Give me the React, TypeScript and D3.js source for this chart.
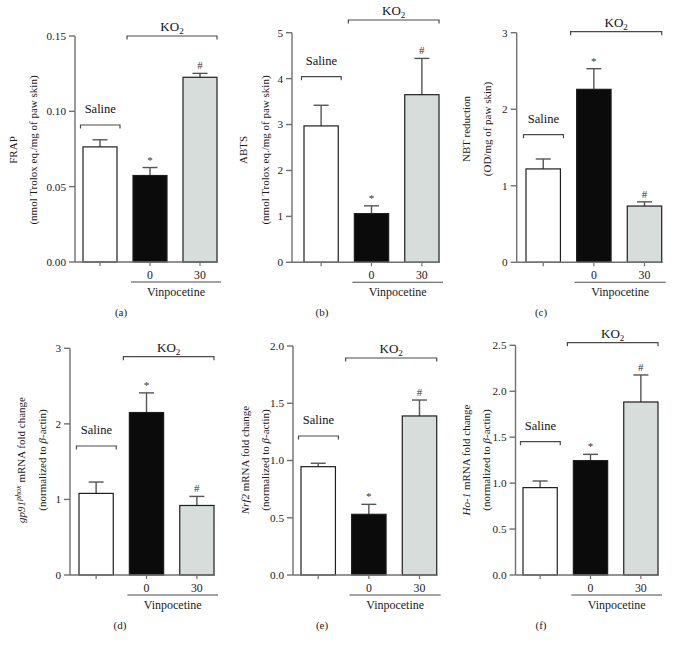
import React from "react";
import * as d3 from "d3";

const groups = ["Saline", "KO2 + Vinpocetine 0", "KO2 + Vinpocetine 30"];
const xLabels = ["", "0", "30"];
const markers = ["", "*", "#"];

const frapMeans = [0.0764, 0.0574, 0.1226];
const frapErrors = [0.0047, 0.0053, 0.0026];
const frapTicks = [0, 0.05, 0.1, 0.15];

const abtsMeans = [2.97, 1.06, 3.65];
const abtsErrors = [0.45, 0.17, 0.79];
const abtsTicks = [0, 1, 2, 3, 4, 5];

const nbtMeans = [1.22, 2.26, 0.735];
const nbtErrors = [0.13, 0.27, 0.055];
const nbtTicks = [0, 1, 2, 3];

const gp91Means = [1.08, 2.15, 0.92];
const gp91Errors = [0.15, 0.26, 0.12];
const gp91Ticks = [0, 1, 2, 3];

const nrf2Means = [0.946, 0.53, 1.389];
const nrf2Errors = [0.03, 0.087, 0.139];
const nrf2Ticks = [0, 0.5, 1.0, 1.5, 2.0];

const ho1Means = [0.951, 1.245, 1.883];
const ho1Errors = [0.072, 0.068, 0.294];
const ho1Ticks = [0, 0.5, 1.0, 1.5, 2.0, 2.5];

const fills = ["#ffffff", "#0b0b0b", "#d6dddb"];
const FONT = "'Liberation Serif', 'Times New Roman', serif";
const AXIS = "#707070";
const BRACKET = "#4a4a4a";

type Cfg = {
  means: number[];
  errors: number[];
  ticks: number[];
  fmt: string;
  axisX: number;
  top: number;
  bottom: number;
  barStart: number;
  barEnd: number;
  salineY: number;
  koY: number;
  label1: React.ReactNode;
  label2: React.ReactNode;
  labelX1: number;
  labelX2: number;
  labelY: number;
  caption: string;
  captionX: number;
};

const beta = <tspan fontStyle="italic">β</tspan>;

const panels: Cfg[] = [
  {
    means: frapMeans, errors: frapErrors, ticks: frapTicks, fmt: ".2f",
    axisX: 75, top: 36, bottom: 262, barStart: 83, barEnd: 217,
    salineY: 125, koY: 36,
    label1: "FRAP", label2: "(nmol Trolox eq./mg of paw skin)",
    labelX1: 13, labelX2: 33, labelY: 150, caption: "(a)", captionX: 121,
  },
  {
    means: abtsMeans, errors: abtsErrors, ticks: abtsTicks, fmt: "d",
    axisX: 292, top: 32.7, bottom: 262.3, barStart: 304, barEnd: 439,
    salineY: 76.7, koY: 20,
    label1: "ABTS", label2: "(nmol Trolox eq./mg of paw skin)",
    labelX1: 243, labelX2: 265, labelY: 150, caption: "(b)", captionX: 322,
  },
  {
    means: nbtMeans, errors: nbtErrors, ticks: nbtTicks, fmt: "d",
    axisX: 516.7, top: 32.7, bottom: 262.3, barStart: 526, barEnd: 661.7,
    salineY: 134.7, koY: 31.7,
    label1: "NBT reduction", label2: "(OD/mg of paw skin)",
    labelX1: 466, labelX2: 487, labelY: 129, caption: "(c)", captionX: 541,
  },
  {
    means: gp91Means, errors: gp91Errors, ticks: gp91Ticks, fmt: "d",
    axisX: 70, top: 348.3, bottom: 575, barStart: 79, barEnd: 214,
    salineY: 446, koY: 356.7,
    label1: (
      <>
        <tspan fontStyle="italic">gp91</tspan>
        <tspan fontStyle="italic" fontSize="8" dy="-4">phox</tspan>
        <tspan dy="4"> mRNA fold change</tspan>
      </>
    ),
    label2: <>(normalized to {beta}-actin)</>,
    labelX1: 21, labelX2: 42, labelY: 460, caption: "(d)", captionX: 120,
  },
  {
    means: nrf2Means, errors: nrf2Errors, ticks: nrf2Ticks, fmt: ".1f",
    axisX: 293, top: 346, bottom: 575, barStart: 301, barEnd: 436.7,
    salineY: 436, koY: 358,
    label1: (
      <>
        <tspan fontStyle="italic">Nrf2</tspan> mRNA fold change
      </>
    ),
    label2: <>(normalized to {beta}-actin)</>,
    labelX1: 245, labelX2: 265, labelY: 460, caption: "(e)", captionX: 322,
  },
  {
    means: ho1Means, errors: ho1Errors, ticks: ho1Ticks, fmt: ".1f",
    axisX: 515.5, top: 345.3, bottom: 575, barStart: 523, barEnd: 658,
    salineY: 441.7, koY: 342.7,
    label1: (
      <>
        <tspan fontStyle="italic">Ho-1</tspan> mRNA fold change
      </>
    ),
    label2: <>(normalized to {beta}-actin)</>,
    labelX1: 466, labelX2: 486, labelY: 460, caption: "(f)", captionX: 541,
  },
];

function Panel({ cfg }: { cfg: Cfg }) {
  const yMax = cfg.ticks[cfg.ticks.length - 1];
  const y = d3.scaleLinear().domain([0, yMax]).range([cfg.bottom, cfg.top]);
  const x = d3
    .scaleBand<string>()
    .domain(groups)
    .range([cfg.barStart, cfg.barEnd])
    .paddingInner(0.32)
    .paddingOuter(0);
  const bw = x.bandwidth();
  const fmt = d3.format(cfg.fmt);
  const capHalf = 7.5;

  const sx0 = (x(groups[0]) as number) - 2.5;
  const sx1 = (x(groups[0]) as number) + bw + 3;
  const kx0 = (x(groups[1]) as number) - 6;
  const kx1 = cfg.barEnd;
  const ux0 = (x(groups[1]) as number) - 2;
  const ux1 = cfg.barEnd + 4;

  return (
    <g fontFamily={FONT}>
      {/* y axis */}
      <line x1={cfg.axisX} x2={cfg.axisX} y1={cfg.bottom} y2={cfg.top} stroke={AXIS} strokeWidth={1.4} />
      {cfg.ticks.map((t) => (
        <g key={t}>
          <line x1={cfg.axisX - 6} x2={cfg.axisX} y1={y(t)} y2={y(t)} stroke={AXIS} strokeWidth={1.4} />
          <text x={cfg.axisX - 9} y={y(t)} dy="0.35em" textAnchor="end" fontSize={11.2} fill="#1a1a1a">
            {fmt(t)}
          </text>
        </g>
      ))}
      {/* bars */}
      {groups.map((g, i) => {
        const bx = x(g) as number;
        const top = y(cfg.means[i]);
        const et = y(cfg.means[i] + cfg.errors[i]);
        const cx = bx + bw / 2;
        return (
          <g key={g}>
            <line x1={cx} x2={cx} y1={top} y2={et} stroke="#555" strokeWidth={1.4} />
            <line x1={cx - capHalf} x2={cx + capHalf} y1={et} y2={et} stroke="#555" strokeWidth={1.4} />
            <rect x={bx} y={top} width={bw} height={cfg.bottom - top} fill={fills[i]} stroke="#1e1e1e" strokeWidth={1.2} />
            {markers[i] && (
              <text x={cx} y={et - 4} textAnchor="middle" fontSize={11} fill="#333">
                {markers[i]}
              </text>
            )}
          </g>
        );
      })}
      {/* x axis */}
      <line x1={cfg.axisX} x2={cfg.barEnd + 1} y1={cfg.bottom} y2={cfg.bottom} stroke={AXIS} strokeWidth={1.4} />
      {groups.map((g, i) => {
        const cx = (x(g) as number) + bw / 2;
        return (
          <g key={"t" + g}>
            <line x1={cx} x2={cx} y1={cfg.bottom} y2={cfg.bottom + 4} stroke={AXIS} strokeWidth={1.2} />
            <text x={cx} y={cfg.bottom + 17} textAnchor="middle" fontSize={11.8} fill="#1a1a1a">
              {xLabels[i]}
            </text>
          </g>
        );
      })}
      <line x1={ux0} x2={ux1} y1={cfg.bottom + 20} y2={cfg.bottom + 20} stroke={BRACKET} strokeWidth={1.1} />
      <text x={(ux0 + ux1) / 2} y={cfg.bottom + 34} textAnchor="middle" fontSize={12} fill="#1a1a1a">
        Vinpocetine
      </text>
      <text x={cfg.captionX} y={cfg.bottom + 54} textAnchor="middle" fontSize={11} fill="#1a1a1a">
        {cfg.caption}
      </text>
      {/* Saline bracket */}
      <path
        d={`M${sx0},${cfg.salineY + 3.5}V${cfg.salineY}H${sx1}V${cfg.salineY + 3.5}`}
        fill="none"
        stroke={BRACKET}
        strokeWidth={1.2}
      />
      <text x={(sx0 + sx1) / 2} y={cfg.salineY - 12} textAnchor="middle" fontSize={12.5} fill="#111">
        Saline
      </text>
      {/* KO2 bracket */}
      <path
        d={`M${kx0},${cfg.koY + 3.5}V${cfg.koY}H${kx1}V${cfg.koY + 3.5}`}
        fill="none"
        stroke={BRACKET}
        strokeWidth={1.2}
      />
      <text x={(kx0 + kx1) / 2} y={cfg.koY - 5} textAnchor="middle" fontSize={13} fill="#111">
        KO<tspan fontSize={9} dy={3}>2</tspan>
      </text>
      {/* y labels */}
      <text
        transform={`translate(${cfg.labelX1},${cfg.labelY}) rotate(-90)`}
        textAnchor="middle"
        dy="0.35em"
        fontSize={11}
        fill="#1a1a1a"
      >
        {cfg.label1}
      </text>
      <text
        transform={`translate(${cfg.labelX2},${cfg.labelY}) rotate(-90)`}
        textAnchor="middle"
        dy="0.35em"
        fontSize={11}
        fill="#1a1a1a"
      >
        {cfg.label2}
      </text>
    </g>
  );
}

export default function App() {
  return (
    <div style={{ position: "absolute", left: 0, top: 0 }}>
      <svg width={677} height={646} style={{ display: "block", background: "#fff" }}>
        <rect width={677} height={646} fill="#fff" />
        {panels.map((p, i) => (
          <Panel key={i} cfg={p} />
        ))}
      </svg>
    </div>
  );
}
